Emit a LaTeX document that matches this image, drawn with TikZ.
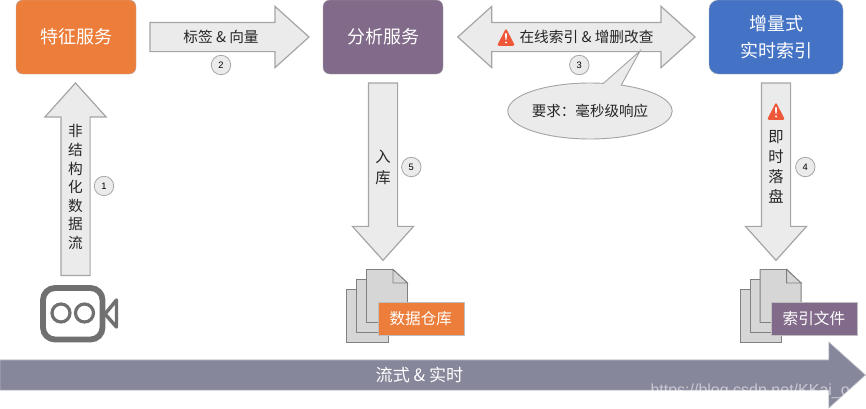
\documentclass[tikz,border=0pt]{standalone}
\usepackage{fontspec}
\setmainfont{Noto Sans CJK SC}
\newfontfamily\latinfont{Liberation Sans}
\usetikzlibrary{shapes.arrows,shapes.callouts,shapes.geometric}

\definecolor{orangebox}{RGB}{237,125,58}
\definecolor{purplebox}{RGB}{130,106,138}
\definecolor{bluebox}{RGB}{68,114,196}
\definecolor{arrowfill}{RGB}{235,235,235}
\definecolor{arrowedge}{RGB}{165,165,165}
\definecolor{sheetfill}{RGB}{214,214,214}
\definecolor{sheetedge}{RGB}{128,128,128}
\definecolor{streambar}{RGB}{135,135,156}
\definecolor{warnred}{RGB}{238,88,56}
\definecolor{cameragray}{RGB}{112,112,112}

\tikzset{every picture/.style={line width=0.75pt},
	servicebox/.style={rounded corners=5pt,draw=white!70!black,line width=0.3pt,text=white,font=\fontsize{13.5}{20.25}\selectfont,align=center,minimum height=55.5pt,inner sep=0pt,outer sep=0pt},
	blockarrow/.style={single arrow,draw=arrowedge,fill=arrowfill,line width=0.9pt,minimum width=45pt,single arrow head extend=12pt,single arrow tip angle=84,inner xsep=0pt,inner ysep=10.5pt,outer sep=0pt},
	arrowtext/.style={font=\fontsize{11}{14.6}\selectfont,text=black!85,align=center,inner sep=0pt},
	stepmark/.style={circle,draw=arrowedge,fill=arrowfill,line width=0.6pt,minimum size=14.6pt,inner sep=0pt,font=\latinfont\fontsize{7}{8}\selectfont},
	sheet/.style={draw=sheetedge,fill=sheetfill,line width=0.7pt},
	storelabel/.style={draw=white!75!black,line width=0.3pt,text=white,minimum width=64.6pt,minimum height=24.75pt,inner sep=0pt,outer sep=0pt,font=\fontsize{11.7}{14}\selectfont},
	warnsign/.pic={
		\fill[warnred,rounded corners=1.2pt] (-9,-8.8) -- (0,8.8) -- (9,-8.8) -- cycle;
		\fill[white] (-1,3.6) -- (1,3.6) -- (0.6,-2.6) -- (-0.6,-2.6) -- cycle;
		\fill[white] (0,-5.4) circle (1.1);
	}
}

\begin{document}
\begin{tikzpicture}[x=0.75pt,y=0.75pt,yscale=-1,xscale=1]
	\useasboundingbox (0,0) rectangle (866,408);

	% Service boxes
	\node[servicebox,fill=orangebox,minimum width=90pt] (featuresvc) at (76,37) {特征服务};
	\node[servicebox,fill=purplebox,minimum width=90pt] (analysissvc) at (383,37) {分析服务};
	\node[servicebox,fill=bluebox,minimum width=100.5pt,rounded corners=7pt] (indexsvc) at (776,37) {增量式\\实时索引};

	% Block arrows
	\node[blockarrow,minimum height=144.4pt,rotate=90,anchor=tail] (arrowone) at (75.5,275.5) {};
	\node[blockarrow,minimum height=119.25pt,anchor=tail] (arrowtwo) at (150,37) {};
	\node[double arrow,draw=arrowedge,fill=arrowfill,line width=0.9pt,minimum width=45pt,minimum height=178pt,double arrow head extend=12pt,double arrow tip angle=84,inner xsep=0pt,inner ysep=10.5pt,outer sep=0pt] (arrowthree) at (576.4,37) {};
	\node[blockarrow,minimum height=133pt,rotate=-90,anchor=tail] (arrowfour) at (776,83) {};
	\node[blockarrow,minimum height=133pt,rotate=-90,anchor=tail] (arrowfive) at (383,83) {};

	% Stream bar
	\node[single arrow,draw=streambar!60!white,fill=streambar,line width=0.5pt,minimum width=48.75pt,minimum height=649pt,single arrow head extend=13.3pt,single arrow tip angle=84,inner xsep=0pt,inner ysep=11.06pt,outer sep=0pt,anchor=tail] (streamarrow) at (0,375) {};

	% Callout
	\node[ellipse callout,draw=arrowedge,fill=arrowfill,line width=0.7pt,minimum width=122.25pt,minimum height=42pt,inner sep=0pt,outer sep=0pt,callout absolute pointer={(640,51)},callout pointer arc=13,font=\fontsize{10.9}{14}\selectfont,text=black!85] (latencynote) at (590,111) {要求：毫秒级响应};

	% Arrow labels
	\node[arrowtext,font=\fontsize{11}{13.9}\selectfont] (rawlabel) at (75.5,187) {非\\结\\构\\化\\数\\据\\流};
	\node[arrowtext] (taglabel) at (221,37) {标签 \& 向量};
	\node[arrowtext] (onlinelabel) at (586.5,37) {在线索引 \& 增删改查};
	\node[arrowtext,font=\fontsize{11.5}{15}\selectfont] (flushlabel) at (776,167) {即\\时\\落\\盘};
	\node[arrowtext,font=\fontsize{11.5}{15.5}\selectfont] (loadlabel) at (383,167.5) {入\\库};
	\pic (warnone) at (506,37) {warnsign};
	\pic (warntwo) at (776,111) {warnsign};

	% Step marks
	\node[stepmark] (stepone) at (104,186) {1};
	\node[stepmark] (steptwo) at (221,65) {2};
	\node[stepmark] (stepthree) at (579.3,65) {3};
	\node[stepmark] (stepfour) at (805.3,167) {4};
	\node[stepmark] (stepfive) at (411.3,167) {5};

	% Camera
	\draw[cameragray,line width=4.4pt,rounded corners=9pt] (43,288) rectangle (102.5,339.5);
	\draw[cameragray,line width=2.4pt] (61,313) circle (9);
	\draw[cameragray,line width=2.4pt] (84.5,313) circle (9);
	\draw[cameragray,line width=2.6pt,line join=round] (105,314) -- (116.5,300) -- (116.5,327) -- cycle;

	% Document stacks
	\foreach \dx in {0,393.6} {
		\draw[sheet] (346.7+\dx,289) rectangle (388+\dx,342.5);
		\draw[sheet] (356.5+\dx,279) rectangle (397.5+\dx,332.5);
		\draw[sheet] (366.5+\dx,269.5) -- (393+\dx,269.5) -- (407.5+\dx,283) -- (407.5+\dx,322.5) -- (366.5+\dx,322.5) -- cycle;
		\draw[sheet] (393+\dx,269.5) -- (407.5+\dx,283) -- (393+\dx,283) -- cycle;
	}
	\node[storelabel,fill=orangebox] (warehouselabel) at (420.8,318.2) {数据仓库};
	\node[storelabel,fill=purplebox] (indexfilelabel) at (813.9,318.2) {索引文件};

	% Stream text
	\node[text=white,inner sep=0pt,font=\fontsize{12.8}{15}\selectfont] (streamlabel) at (419.5,375) {流式 \& 实时};
	\node[text=white,opacity=0.55,anchor=west,inner sep=0pt,font=\latinfont\fontsize{12}{14}\selectfont] (sitemark) at (650,391) {https://blog.csdn.net/KKai\_o};
\end{tikzpicture}
\end{document}
